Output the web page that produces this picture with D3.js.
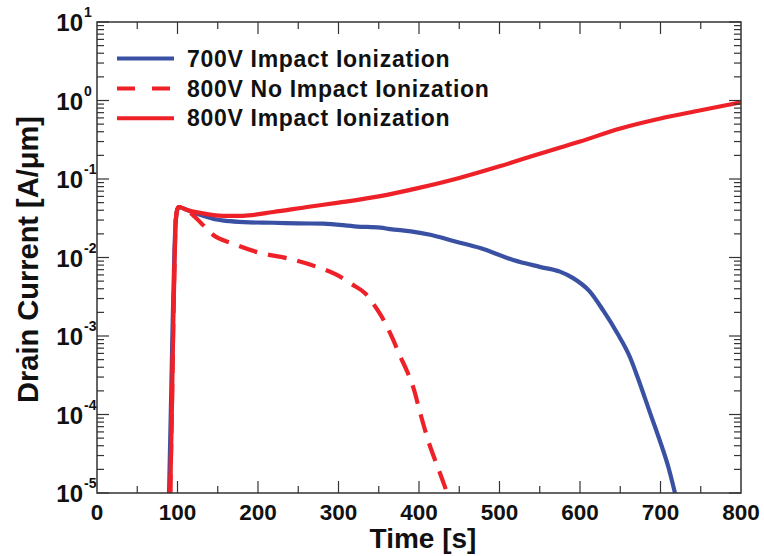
<!DOCTYPE html>
<html><head><meta charset="utf-8">
<script src="https://cdn.jsdelivr.net/npm/d3@7"></script>
<style>body{margin:0;background:#fff}svg{display:block}text{font-family:"Liberation Sans",Arial,sans-serif;font-weight:bold;fill:#111}</style>
</head><body><svg id="c" width="764" height="556"></svg>
<script>
const blueT = [89.5, 92, 94, 96, 97.5, 99.5, 101.5, 115, 128, 145, 165, 190, 219, 250, 281, 323, 352, 364, 390, 414, 445, 476, 517, 550, 575, 591, 612, 629, 646, 662, 672, 687, 699, 710, 718];
const blueV = [1e-5, 1.5e-4, 1.5e-3, 0.01, 0.027, 0.04, 0.044, 0.039, 0.035, 0.031, 0.029, 0.028, 0.0277, 0.0272, 0.027, 0.0248, 0.024, 0.023, 0.0215, 0.0195, 0.016, 0.0132, 0.0093, 0.0076, 0.0066, 0.0055, 0.0037, 0.0021, 0.0011, 5.4e-4, 2.9e-4, 1.05e-4, 4.7e-5, 2.1e-5, 1e-5];
const dashT = [91, 93.2, 94.8, 96.5, 97.7, 99.5, 101.5, 116, 130, 144, 169, 199, 236, 273, 298, 316, 333, 349, 358, 368, 376, 386, 393, 402, 411, 426, 435];
const dashV = [1e-5, 1.5e-4, 1.5e-3, 0.01, 0.027, 0.04, 0.044, 0.037, 0.027, 0.0195, 0.015, 0.0117, 0.0098, 0.0076, 0.006, 0.0046, 0.0035, 0.0021, 0.00147, 8.9e-4, 5.7e-4, 3.4e-4, 2.2e-4, 1.0e-4, 4.8e-5, 1.8e-5, 1e-5];
const redT = [91, 93.2, 94.8, 96.5, 97.7, 99.5, 101.5, 110, 128, 157, 181, 219, 261, 300, 350, 400, 450, 500, 550, 600, 650, 700, 750, 800];
const redV = [1e-5, 1.5e-4, 1.5e-3, 0.01, 0.027, 0.04, 0.044, 0.041, 0.037, 0.034, 0.034, 0.038, 0.044, 0.050, 0.060, 0.077, 0.103, 0.145, 0.21, 0.30, 0.44, 0.59, 0.75, 0.95];
const seriesNames = ["700V Impact Ionization", "800V No Impact Ionization", "800V Impact Ionization"];
const xTicks = [0, 100, 200, 300, 400, 500, 600, 700, 800];
const yExps = [1, 0, -1, -2, -3, -4, -5];
const xLabel = "Time [s]";
const yLabel = "Drain Current [A/\u03bcm]";

const svg = d3.select("#c");
const L = 97, R = 741, T = 22, B = 493;
const x = d3.scaleLinear().domain([0, 800]).range([L, R]);
const y = d3.scaleLog().domain([1e-5, 10]).range([B, T]);
const blue = "#3a51a3", red = "#ee2128";

svg.append("clipPath").attr("id", "clip").append("rect")
  .attr("x", L).attr("y", T).attr("width", R - L).attr("height", B - T);

const series = [
  {t: blueT, v: blueV, color: blue, dash: null},
  {t: dashT, v: dashV, color: red, dash: "19,11"},
  {t: redT, v: redV, color: red, dash: null}
];
const line = d3.line().x(d => x(d[0])).y(d => y(d[1])).curve(d3.curveMonotoneX);
const g = svg.append("g").attr("clip-path", "url(#clip)");
series.forEach(s => {
  g.append("path").datum(d3.zip(s.t, s.v)).attr("d", line)
    .attr("fill", "none").attr("stroke", s.color).attr("stroke-width", 4.2)
    .attr("stroke-linejoin", "round").attr("stroke-dasharray", s.dash);
});

// axes ticks (inward)
const axc = "#333";
const tk = svg.append("g").attr("stroke", axc).attr("stroke-width", 1.2);
d3.range(50, 800, 50).forEach(v => {
  const len = v % 100 === 0 ? 12 : 7;
  tk.append("line").attr("x1", x(v)).attr("x2", x(v)).attr("y1", B).attr("y2", B - len);
  tk.append("line").attr("x1", x(v)).attr("x2", x(v)).attr("y1", T).attr("y2", T + len);
});
for (let e = -5; e <= 1; e++) {
  const p = Math.pow(10, e);
  tk.append("line").attr("x1", L).attr("x2", L + 12).attr("y1", y(p)).attr("y2", y(p));
  tk.append("line").attr("x1", R).attr("x2", R - 12).attr("y1", y(p)).attr("y2", y(p));
  if (e < 1) for (let m = 2; m <= 9; m++) {
    const q = m * p;
    tk.append("line").attr("x1", L).attr("x2", L + 7).attr("y1", y(q)).attr("y2", y(q));
    tk.append("line").attr("x1", R).attr("x2", R - 7).attr("y1", y(q)).attr("y2", y(q));
  }
}
svg.append("rect").attr("x", L).attr("y", T).attr("width", R - L).attr("height", B - T)
  .attr("fill", "none").attr("stroke", axc).attr("stroke-width", 1.5);

// x tick labels
xTicks.forEach(v => {
  svg.append("text").attr("x", x(v)).attr("y", 520).attr("text-anchor", "middle")
    .attr("font-size", 22.5).text(v);
});
// y tick labels
yExps.forEach(e => {
  const yy = y(Math.pow(10, e));
  svg.append("text").attr("x", 83).attr("y", yy + 9).attr("text-anchor", "end")
    .attr("font-size", 24).text("10");
  svg.append("text").attr("x", 84).attr("y", yy - 5).attr("text-anchor", "start")
    .attr("font-size", 14).text(e);
});
// axis titles
svg.append("text").attr("x", (L + R) / 2 + 4).attr("y", 548).attr("text-anchor", "middle")
  .attr("font-size", 28).text(xLabel);
svg.append("text").attr("transform", "translate(38," + ((T + B) / 2 + 2) + ") rotate(-90)")
  .attr("text-anchor", "middle").attr("font-size", 29).text(yLabel);

// legend
const ly = [58.5, 88.5, 118.3];
series.forEach((s, i) => {
  svg.append("line").attr("x1", 117).attr("x2", 174).attr("y1", ly[i]).attr("y2", ly[i])
    .attr("stroke", s.color).attr("stroke-width", 4).attr("stroke-dasharray", s.dash ? "18,17" : null);
  svg.append("text").attr("x", 187).attr("y", ly[i] + 8).attr("font-size", 23)
    .attr("letter-spacing", 0.7).text(seriesNames[i]);
});
</script></body></html>
